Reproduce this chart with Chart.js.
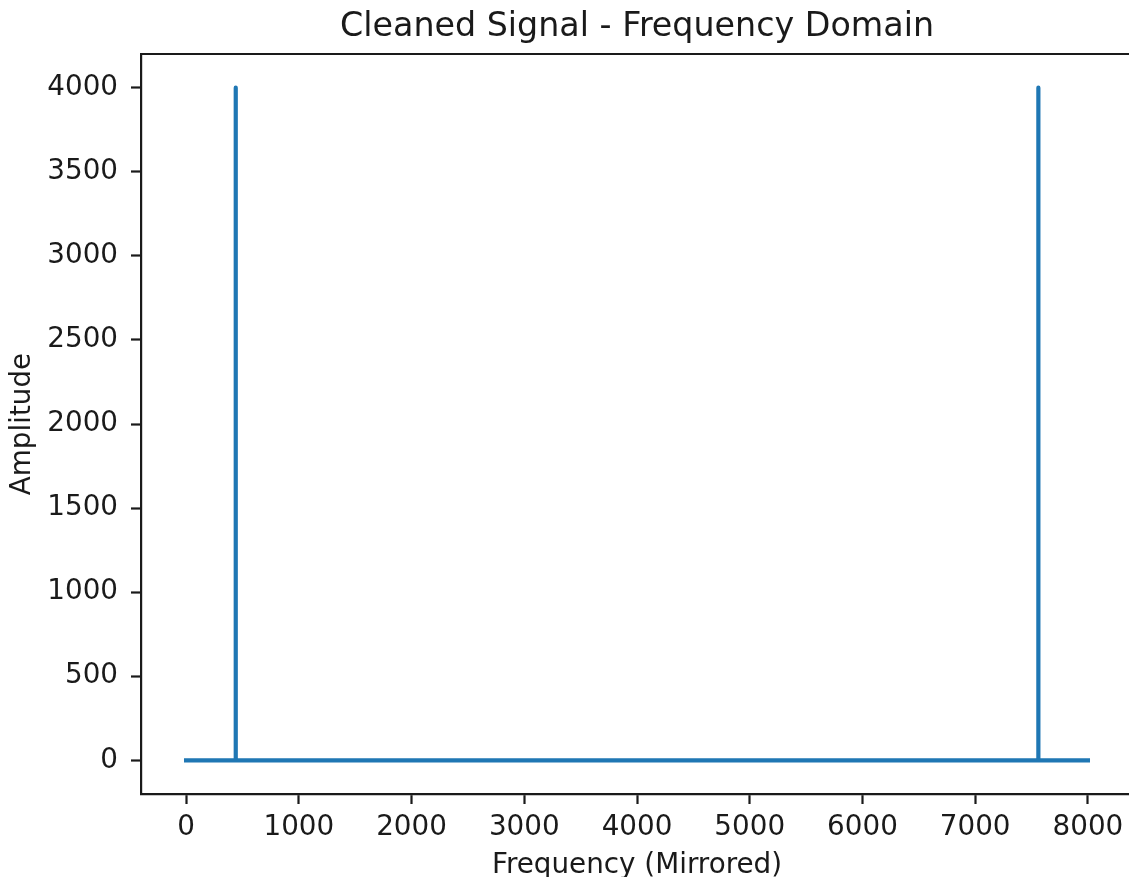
<!DOCTYPE html>
<html>
<head>
<meta charset="utf-8">
<title>Cleaned Signal - Frequency Domain</title>
<script src="https://cdn.jsdelivr.net/npm/chart.js@4/dist/chart.umd.min.js"></script>
<style>
  html, body { margin: 0; padding: 0; background: #fff; overflow: hidden; }
  #wrap { width: 1129px; height: 877px; overflow: hidden; }
  canvas { display: block; }
</style>
</head>
<body>
<div id="wrap"><canvas id="fftChart" width="1140" height="877"></canvas></div>
<script>
// espectro limpio: solo quedan los dos picos (440 Hz y su espejo)
const frecuencias = [0, 439, 440, 441, 7559, 7560, 7561, 8000];
const amplitudes  = [0, 0, 4000, 0, 0, 4000, 0, 0];

const ticksX = [0, 1000, 2000, 3000, 4000, 5000, 6000, 7000, 8000];
const ticksY = [0, 500, 1000, 1500, 2000, 2500, 3000, 3500, 4000];

const TITULO = 'Cleaned Signal - Frequency Domain';
const FUENTE = "'DejaVu Sans', sans-serif";
const NEGRO = '#1a1a1a';
const AZUL = '#1f77b4';

// borde superior del eje + titulo centrado sobre el area del grafico
// (el borde derecho queda fuera del lienzo visible)
const marco = {
    id: 'marco',
    afterDraw(chart) {
        const { ctx, chartArea: a } = chart;
        ctx.save();
        ctx.strokeStyle = NEGRO;
        ctx.lineWidth = 2.2;
        ctx.beginPath();
        ctx.moveTo(a.left, a.top);
        ctx.lineTo(a.right, a.top);
        ctx.stroke();

        ctx.fillStyle = NEGRO;
        ctx.font = `33.3px ${FUENTE}`;
        ctx.textAlign = 'center';
        ctx.textBaseline = 'alphabetic';
        ctx.fillText(TITULO, (a.left + a.right) / 2, a.top - 18);
        ctx.restore();
    }
};

const ctx = document.getElementById('fftChart').getContext('2d');

new Chart(ctx, {
    type: 'line',
    data: {
        datasets: [{
            data: frecuencias.map((f, i) => ({ x: f, y: amplitudes[i] })),
            borderColor: AZUL,
            borderWidth: 4.2,
            borderJoinStyle: 'round',
            borderCapStyle: 'square',
            pointRadius: 0,
            tension: 0,
            fill: false
        }]
    },
    options: {
        responsive: false,
        devicePixelRatio: 1,
        animation: false,
        layout: { padding: { left: 0, right: 7, top: 54, bottom: 0 } },
        plugins: {
            legend: { display: false },
            tooltip: { enabled: false },
            title: { display: false }
        },
        scales: {
            x: {
                type: 'linear',
                min: -400,
                max: 8400,
                afterBuildTicks: (scale) => { scale.ticks = ticksX.map(v => ({ value: v })); },
                afterFit: (scale) => { scale.height = 83; },
                ticks: {
                    color: NEGRO,
                    font: { family: FUENTE, size: 27.8 },
                    padding: 7,
                    maxRotation: 0,
                    callback: (v) => String(v)
                },
                grid: {
                    drawOnChartArea: false,
                    drawTicks: true,
                    tickLength: 10,
                    tickWidth: 2.2,
                    tickColor: NEGRO
                },
                border: { display: true, color: NEGRO, width: 2.2 },
                title: {
                    display: true,
                    text: 'Frequency (Mirrored)',
                    color: NEGRO,
                    font: { family: FUENTE, size: 27.8, lineHeight: 1 },
                    padding: { top: 0, bottom: -3 }
                }
            },
            y: {
                type: 'linear',
                min: -200,
                max: 4200,
                afterBuildTicks: (scale) => { scale.ticks = ticksY.map(v => ({ value: v })); },
                afterFit: (scale) => { scale.width = 141; },
                ticks: {
                    color: NEGRO,
                    font: { family: FUENTE, size: 27.8 },
                    padding: 13,
                    callback: (v) => String(v)
                },
                grid: {
                    drawOnChartArea: false,
                    drawTicks: true,
                    tickLength: 10,
                    tickWidth: 2.2,
                    tickColor: NEGRO
                },
                border: { display: true, color: NEGRO, width: 2.2 },
                title: {
                    display: true,
                    text: 'Amplitude',
                    color: NEGRO,
                    font: { family: FUENTE, size: 27.8, lineHeight: 1 },
                    padding: { top: 9, bottom: 0 }
                }
            }
        }
    },
    plugins: [marco]
});
</script>
</body>
</html>
